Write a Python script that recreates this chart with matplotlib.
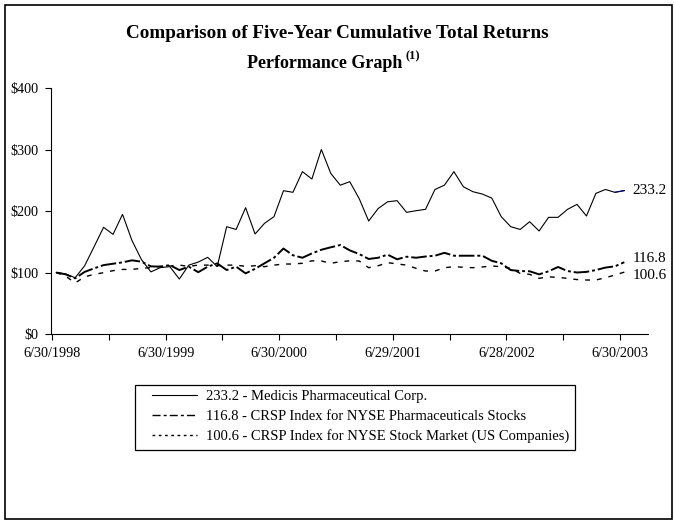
import matplotlib
matplotlib.use("Agg")
import matplotlib.pyplot as plt
from matplotlib.lines import Line2D
from matplotlib.patches import Rectangle

plt.rcParams['font.family'] = ['Liberation Serif', 'DejaVu Serif']

# monthly index values, 6/30/1998 .. 6/30/2003 (61 points)
medicis = [100, 97.6, 91.5, 111, 142, 173.5, 162, 194.6, 152, 121,
           101, 108, 109.5, 89.4, 112, 117, 124.7, 109.5, 174.5, 170,
           205.4, 162.6, 180, 190.8, 233, 230.4, 264, 252, 300, 261,
           242, 247.7, 220, 183.7, 204, 215, 216.8, 197.8, 200.5, 202.7,
           235, 242, 264, 239.5, 231.4, 227.6, 221, 190.8, 174.5, 170,
           182.6, 167.5, 189.7, 189.7, 202.7, 210.8, 191.9, 228.7, 235, 230.4,
           233.2]
pharma = [100, 97, 90.5, 101, 106.8, 112, 114.3, 116.5, 119.8, 117.6,
          110, 109.5, 112, 104, 109.5, 100.5, 109.5, 114.9, 104, 109.5,
          98.6, 106, 115, 124, 139, 128, 124, 131, 137, 141,
          144.7, 136, 130, 122, 124, 129, 121.5, 125.7, 124, 126,
          127.3, 132, 127.3, 127.3, 127.3, 127.3, 119, 115, 104, 102.4,
          102, 97, 102, 109, 102.4, 100, 101, 104, 108, 110,
          116.8]
nyse = [100, 94, 83, 93, 97, 99.7, 103, 105, 105, 106.8,
        108, 110, 110.6, 112, 110, 112, 112, 111, 112, 112,
        110, 111, 109.5, 112, 113.8, 113.8, 115, 119, 118.7, 115,
        117.6, 119, 118.7, 107.8, 111, 116, 114, 112, 106.8, 102.4,
        102.4, 107.8, 109.5, 108.5, 107.8, 109, 110.6, 109.5, 106.8, 98.6,
        97, 90.5, 93, 92, 90.5, 88.5, 87.8, 87.8, 91.5, 95.9,
        100.6]
year_labels = ["6/30/1998", "6/30/1999", "6/30/2000", "6/29/2001", "6/28/2002", "6/30/2003"]
series_names = ["233.2 - Medicis Pharmaceutical Corp.",
                "116.8 - CRSP Index for NYSE Pharmaceuticals Stocks",
                "100.6 - CRSP Index for NYSE Stock Market (US Companies)"]
end_labels = ["233.2", "116.8", "100.6"]

months = list(range(len(medicis)))

fig = plt.figure(figsize=(6.75, 5.26), dpi=100)
fig.patches.append(Rectangle((0.0074, 0.0133), 0.988, 0.977, transform=fig.transFigure,
                             fill=False, edgecolor="black", linewidth=1.2))

ax = fig.add_axes([0.0756, 0.365, 0.8844, 0.4677])

ax.plot(months, medicis, color="black", linewidth=0.8)
ax.plot(months[-2:], medicis[-2:], color="#000080", linewidth=0.8)
ax.plot(months, pharma, color="black", linewidth=1.4, dashes=(8, 1.5, 1.5, 1.5))
ax.plot(months, nyse, color="black", linewidth=1.0, dashes=(3.5, 5))

ax.set_xlim(-0.55, 62.5)
ax.set_ylim(0, 400)
ax.set_yticks([0, 100, 200, 300, 400])
ax.set_yticklabels(["$0", "$100", "$200", "$300", "$400"])
ax.set_xticks([k * 6 - 0.45 for k in range(11)])
ax.set_xticklabels([year_labels[k // 2] if k % 2 == 0 else "" for k in range(11)])
ax.tick_params(axis="both", direction="out", length=4, width=0.8, labelsize=10.2, pad=5)
for side in ("top", "right"):
    ax.spines[side].set_visible(False)
for side in ("left", "bottom"):
    ax.spines[side].set_linewidth(0.8)

# end-of-period value labels
offsets = [0, 3, -2.5]
for vals, lab, dy in zip([medicis, pharma, nyse], end_labels, offsets):
    ax.annotate(lab, xy=(months[-1], vals[-1]), xytext=(6, dy), textcoords="offset points",
                va="center", ha="left", fontsize=11)

fig.text(0.5, 1 - 34 / 526, "Comparison of Five-Year Cumulative Total Returns",
         ha="center", va="center", fontsize=13.8, fontweight="bold")
fig.text(324.5 / 675, 1 - 63 / 526, "Performance Graph",
         ha="center", va="center", fontsize=13, fontweight="bold")
fig.text(406 / 675, 1 - 56 / 526, "(1)",
         ha="left", va="center", fontsize=9, fontweight="bold")

# legend: frame drawn separately so the padding matches
fig.patches.append(Rectangle((135 / 675, 1 - 450 / 526), 440 / 675, 65 / 526,
                             transform=fig.transFigure, fill=False,
                             edgecolor="black", linewidth=0.9))
handles = [Line2D([], [], color="black", linewidth=0.8),
           Line2D([], [], color="black", linewidth=1.0, dashes=(5.8, 2.2, 2.2, 2.2)),
           Line2D([], [], color="black", linewidth=1.0, dashes=(2, 2.5))]
fig.legend(handles, series_names, loc="upper left", bbox_to_anchor=(152 / 675, 1 - 390 / 526),
           frameon=False, fontsize=10.5, handlelength=3.1, handletextpad=0.6,
           borderpad=0, labelspacing=0.45, borderaxespad=0)

fig.savefig("out.png", dpi=100)
